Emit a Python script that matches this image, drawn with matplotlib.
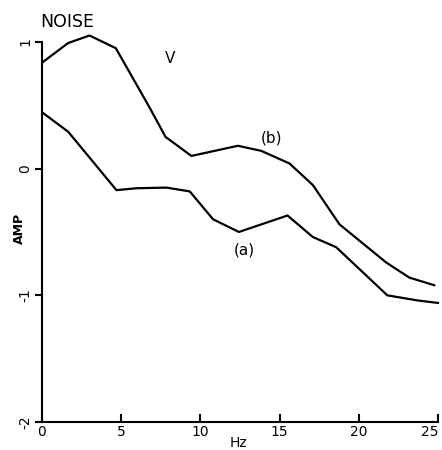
import matplotlib
matplotlib.use("Agg")
import matplotlib.pyplot as plt

# curve (a), lower
freq_a = [0.05, 1.66, 4.7, 5.97, 7.86, 9.33, 10.8, 12.43, 15.5, 17.1, 18.57, 21.8, 23.7, 25.0]
amp_a = [0.44, 0.29, -0.17, -0.155, -0.15, -0.18, -0.40, -0.50, -0.37, -0.54, -0.62, -1.0, -1.04, -1.06]

# curve (b), upper
freq_b = [0.05, 1.64, 3.0, 4.66, 6.8, 7.8, 9.43, 12.37, 13.84, 15.63, 17.1, 18.78, 21.72, 23.19, 24.76]
amp_b = [0.84, 0.99, 1.05, 0.95, 0.48, 0.25, 0.10, 0.18, 0.14, 0.04, -0.13, -0.44, -0.74, -0.86, -0.92]

xticks = [0, 5, 10, 15, 20, 25]
yticks = [-2, -1, 0, 1]

plt.rcParams['font.family'] = ['DejaVu Sans']

fig = plt.figure(figsize=(4.42, 4.5), dpi=100)
ax = fig.add_axes([0.095, 0.062, 0.896, 0.845])

ax.plot(freq_a, amp_a, color='black', lw=1.6, clip_on=False)
ax.plot(freq_b, amp_b, color='black', lw=1.6, clip_on=False)

ax.set_xlim(0, 25)
ax.set_ylim(-2, 1)
ax.set_xticks(xticks)
ax.set_yticks(yticks)
ax.set_xticklabels([str(t) for t in xticks], fontsize=10)
ax.set_yticklabels([str(t) for t in yticks], fontsize=10, rotation=90, va='center')
ax.tick_params(axis='x', direction='in', length=6, width=1.5, pad=2)
ax.tick_params(axis='y', direction='out', length=5, width=1.5, pad=2)
# last x label sits at the figure edge
ax.get_xticklabels()[-1].set_ha('right')

for side in ['top', 'right']:
    ax.spines[side].set_visible(False)
for side in ['left', 'bottom']:
    ax.spines[side].set_linewidth(1.5)

fig.text(0.09, 0.951, 'NOISE', fontsize=12.5, ha='left', va='center')
ax.text(8.1, 0.87, 'V', fontsize=11, ha='center', va='center')
ax.text(14.5, 0.24, '(b)', fontsize=11, ha='center', va='center')
ax.text(12.8, -0.64, '(a)', fontsize=11, ha='center', va='center')
fig.text(0.045, 0.493, 'AMP', rotation=90, fontsize=9, fontweight='bold', ha='center', va='center')
fig.text(0.54, 0.0, 'Hz', fontsize=10, ha='center', va='bottom')

fig.savefig('out.png', dpi=100)
